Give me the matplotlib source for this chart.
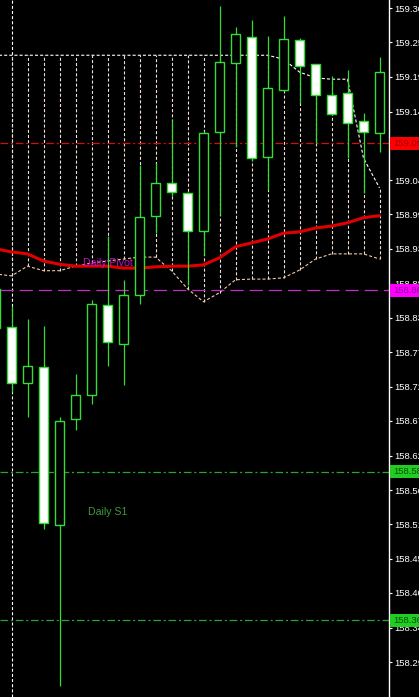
import matplotlib
matplotlib.use('Agg')
import matplotlib.pyplot as plt
from matplotlib.patches import Rectangle
import matplotlib.transforms as mtransforms
import numpy as np

plt.rcParams['lines.scale_dashes'] = False
plt.rcParams['font.family'] = ['Liberation Sans', 'DejaVu Sans']

# ---------------- data ----------------
open_ = [158.805, 158.807, 158.720, 158.745, 158.501, 158.665, 158.702, 158.841, 158.781,
         158.857, 158.979, 159.030, 159.014, 158.955, 159.108, 159.215, 159.255, 159.070,
         159.173, 159.251, 159.214, 159.166, 159.169, 159.125, 159.107]
high = [158.880, 158.840, 158.819, 158.809, 158.668, 158.734, 158.849, 158.948, 158.880,
        159.057, 159.061, 159.127, 159.016, 159.110, 159.303, 159.271, 159.282, 159.257,
        159.288, 159.254, 159.214, 159.195, 159.204, 159.138, 159.224]
low = [158.795, 158.707, 158.668, 158.495, 158.252, 158.648, 158.688, 158.747, 158.717,
       158.843, 158.952, 159.010, 158.872, 158.918, 158.980, 159.085, 159.064, 159.019,
       159.172, 159.153, 159.091, 159.135, 159.068, 159.014, 159.078]
close = [158.866, 158.720, 158.747, 158.504, 158.662, 158.702, 158.843, 158.784, 158.857,
         158.977, 159.030, 159.016, 158.955, 159.107, 159.217, 159.260, 159.068, 159.176,
         159.252, 159.210, 159.166, 159.136, 159.122, 159.108, 159.201]
ma = [158.928, 158.923, 158.920, 158.909, 158.904, 158.901, 158.901, 158.901, 158.898,
      158.898, 158.900, 158.901, 158.901, 158.903, 158.914, 158.931, 158.937, 158.943,
      158.952, 158.954, 158.960, 158.963, 158.968, 158.976, 158.979]
band_upper = [159.227] * 18 + [159.221, 159.201, 159.192, 159.190, 159.190, 159.068, 159.022]
band_lower = [158.889, 158.886, 158.901, 158.894, 158.894, 158.901, 158.906, 158.909, 158.912,
              158.915, 158.915, 158.894, 158.866, 158.846, 158.860, 158.880, 158.881, 158.881,
              158.883, 158.895, 158.912, 158.920, 158.920, 158.920, 158.912]
pivot = 158.864
s1 = 158.583
s2 = 158.354
ref_level = 159.091
separator_bar = 1

tick_vals = [159.300, 159.247, 159.194, 159.140, 159.087, 159.034, 158.981, 158.928, 158.874,
             158.821, 158.768, 158.715, 158.662, 158.608, 158.555, 158.502, 158.449, 158.396,
             158.342, 158.289]
tick_labels = ['159.30', '159.25', '159.19', '159.14', '159.09', '159.04', '158.99', '158.93',
               '158.88', '158.83', '158.77', '158.72', '158.67', '158.62', '158.56', '158.51',
               '158.45', '158.40', '158.34', '158.29']
box_labels = {'ref': '159.09', 'pivot': '158.86', 's1': '158.58', 's2': '158.36'}

# ---------------- figure ----------------
W, H = 419, 697
fig = plt.figure(figsize=(W / 100, H / 100), dpi=100, facecolor='black')
AXR = 389 / W
ax = fig.add_axes([0, 0, AXR, 1])
ax.set_facecolor('black')

n = len(open_)
x = np.arange(n)
ax.set_xlim(4.5 / 16, 393.5 / 16)
ax.set_ylim(158.2351, 159.3124)

dot = (0, (2.2, 1.5))
# period separator
ax.axvline(separator_bar, color='white', lw=0.8, ls=dot, zorder=1)
# histogram of the band
ax.vlines(x, band_lower, band_upper, colors='#f0e0d4', linestyles=[dot], lw=0.8, zorder=1)
ax.plot(x, band_upper, color='white', lw=0.8, ls=dot, zorder=1.2)
ax.plot(x, band_lower, color='#f0c8a8', lw=0.8, ls=dot, zorder=1.2)

# horizontal levels
ax.axhline(ref_level, color='#d01010', lw=0.9, ls=(0, (5.5, 2, 1.5, 2)), zorder=1.5)
ax.axhline(pivot, color='#c030c0', lw=0.9, ls=(0, (9.5, 4.3)), zorder=1.5)
ax.axhline(s1, color='#30a030', lw=0.9, ls=(0, (5.5, 2, 1.5, 2)), zorder=1.5)
ax.axhline(s2, color='#30a030', lw=0.9, ls=(0, (5.5, 2, 1.5, 2)), zorder=1.5)

ax.text(87.5 / 16, pivot + (290 - 266) / 647, 'Daily Pivot', color='#c010c0',
        fontsize=7.6, va='baseline', ha='left', zorder=5)
ax.text(92.5 / 16, s1 - (515 - 472) / 647, 'Daily S1', color='#3c9a3c',
        fontsize=7.6, va='baseline', ha='left', zorder=5)

# moving average
ax.plot(x, ma, color='#e00000', lw=2.2, zorder=2, solid_capstyle='round')

# candles
green = '#33dd33'
bw = 9.5 / 16
for i in range(n):
    o, h, l, c = open_[i], high[i], low[i], close[i]
    top, bot = max(o, c), min(o, c)
    ax.vlines(i, top, h, color=green, lw=0.9, zorder=3)
    ax.vlines(i, l, bot, color=green, lw=0.9, zorder=3)
    face = 'white' if c < o else 'black'
    ax.add_patch(Rectangle((i - bw / 2, bot), bw, top - bot, facecolor=face,
                           edgecolor=green, lw=1.0, zorder=4))

# axis styling
for s in ['top', 'left', 'bottom']:
    ax.spines[s].set_visible(False)
ax.spines['right'].set_color('white')
ax.spines['right'].set_linewidth(1.0)
ax.set_xticks([])
ax.yaxis.tick_right()
ax.set_yticks(tick_vals)
ax.set_yticklabels(tick_labels)
ax.tick_params(axis='y', colors='white', labelsize=6.8, length=2.5, width=0.8, pad=1.0)

# price label boxes on the right
trans = mtransforms.blended_transform_factory(fig.transFigure, ax.transData)
bh = 13 / 647
for key, lvl, bg, fg in [('ref', ref_level, '#ff0000', '#a00000'),
                         ('pivot', pivot, '#ff00ff', '#9000a0'),
                         ('s1', s1, '#22cc22', '#005500'),
                         ('s2', s2, '#22cc22', '#005500')]:
    fig.add_artist(Rectangle((390 / W, lvl - bh / 2), 30 / W, bh, transform=trans,
                             facecolor=bg, edgecolor='none', zorder=5))
    fig.text(393.5 / W, lvl, box_labels[key], transform=trans, color=fg, fontsize=6.8,
             va='center', ha='left', zorder=6)

fig.savefig('out.png', dpi=100, facecolor='black')
